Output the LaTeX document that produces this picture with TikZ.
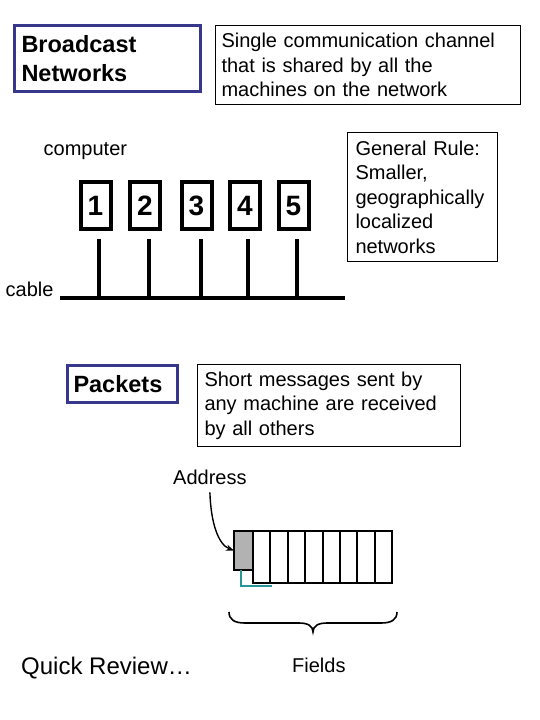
\documentclass[tikz,border=0pt]{standalone}
\usepackage{fontspec}
\setmainfont{Liberation Sans}
\usetikzlibrary{arrows.meta,calc}
\definecolor{navy}{RGB}{55,55,140}
\definecolor{tealc}{RGB}{40,150,150}
\definecolor{addrgray}{RGB}{178,178,178}
\tikzset{
  titlebox/.style={draw=navy, line width=3pt, font=\bfseries\fontsize{23.5}{29}\selectfont,
    align=left, anchor=north west, inner ysep=0pt, inner xsep=7pt, outer sep=0pt},
  textbox/.style={draw=black, line width=1pt, font=\fontsize{20}{24.5}\selectfont,
    align=left, anchor=north west, inner ysep=0pt, outer sep=0pt},
  lbl/.style={font=\fontsize{20}{24}\selectfont, inner sep=0pt, anchor=base west},
  compbox/.style={draw=black, line width=4pt, minimum width=30pt, minimum height=47pt,
    inner sep=0pt, outer sep=0pt, text height=20pt, text depth=0pt,
    font=\bfseries\fontsize{28}{32}\selectfont},
  wire/.style={line width=3.4pt},
  cableline/.style={line width=4pt},
  field/.style={draw=black, line width=2pt, minimum width=17.375pt, minimum height=52pt,
    inner sep=0pt, outer sep=0pt, anchor=north west},
  addrfield/.style={draw=black, fill=addrgray, line width=2pt, minimum width=19pt,
    minimum height=39pt, inner sep=0pt, outer sep=0pt, anchor=north east},
  tealline/.style={draw=tealc, line width=1.8pt},
  pointer/.style={line width=1.4pt, -{Stealth[length=8pt,width=6pt]}},
  bracel/.style={line width=1.6pt}
}
\begin{document}
\begin{tikzpicture}[x=1pt,y=-1pt]
\useasboundingbox (0,0) rectangle (540,720);

% top row
\node[titlebox, minimum width=186pt, minimum height=66pt, text width=172pt] (bn) at (14.5,25.5)
  {Broadcast\\Networks};
\node[textbox, minimum width=305pt, minimum height=79pt, text width=293pt, inner xsep=6pt] (sc) at (215.5,25.5)
  {Single communication channel\\that is shared by all the\\machines on the network};

% computers
\node[lbl] (comp) at (43.5,155.5) {computer};
\node[textbox, minimum width=150pt, minimum height=129pt, text width=134pt, inner xsep=8pt] (gr) at (347.5,132.5)
  {General Rule:\\Smaller,\\geographically\\localized\\networks};

\node[compbox] (c1) at (95.5,205.5) {1};
\node[compbox] (c2) at (145,205.5) {2};
\node[compbox] (c3) at (196.5,205.5) {3};
\node[compbox] (c4) at (245,205.5) {4};
\node[compbox] (c5) at (293.5,205.5) {5};

\coordinate (cabL) at (60,297.5);
\coordinate (cabR) at (345,297.5);
\draw[cableline] (cabL) -- (cabR);
\node[lbl] (cab) at (5.5,296) {cable};

\coordinate (t1) at (99,239);
\coordinate (t2) at (149,239);
\coordinate (t3) at (201,239);
\coordinate (t4) at (248,239);
\coordinate (t5) at (297,239);
\foreach \i in {1,...,5} {\draw[wire] (t\i) -- (t\i |- cabL);}

% packets
\node[titlebox, minimum width=110pt, minimum height=37pt, text width=98pt, inner xsep=6pt] (pk) at (67.5,365.5)
  {Packets};
\node[textbox, minimum width=263pt, minimum height=82pt, text width=249pt, inner xsep=7pt] (sm) at (197.5,364.5)
  {Short messages sent by\\any machine are received\\by all others};

% packet drawing
\node[lbl] (addr) at (173,484) {Address};
\node[addrfield] (g) at (253,531) {};
\foreach \i in {1,...,8} {\node[field] (f\i) at ({253+17.375*(\i-1)},531) {};}
\draw[tealline] ($(g.south west)+(7,0)$) |- ($(f1.south east)+(1.5,3)$);
\draw[pointer] ($(addr.south)+(0,8)$) .. controls +(1,30) and +(-16,-6) .. (g.west);

% brace
\coordinate (brL) at (229,612);
\coordinate (brR) at (397,612);
\coordinate (brT) at (313,632);
\draw[bracel] (brL) .. controls +(0,8) and +(-10,0) .. ($(brL)+(16,11)$)
  -- ($(brT)+(-14,-9)$) .. controls +(9,0) and +(0,-6) .. (brT)
  .. controls +(0,-6) and +(-9,0) .. ($(brT)+(14,-9)$)
  -- ($(brR)+(-16,11)$) .. controls +(10,0) and +(0,8) .. (brR);

\node[lbl] (fields) at (292,672) {Fields};
\node[lbl, font=\fontsize{24}{28}\selectfont] (qr) at (21,674) {Quick Review…};
\end{tikzpicture}
\end{document}
